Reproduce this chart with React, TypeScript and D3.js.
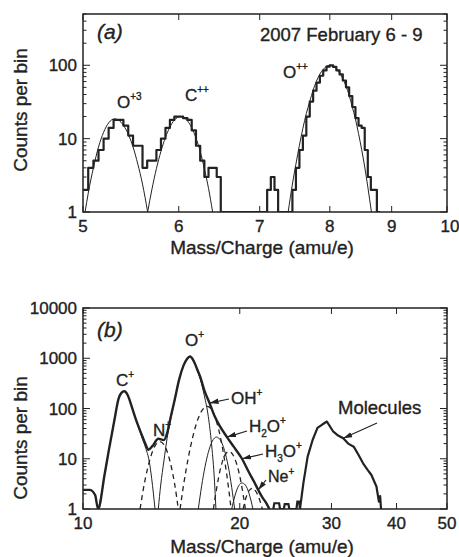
import React from 'react';
import * as d3 from 'd3';

type Pt = [number, number];

// ---------- panel (a): 2007 February 6 - 9 ----------
const histStartA = 5.0;
const histBinA = 0.05;
const histCountsA = [
  2, 4, 5, 7, 10, 14, 18, 18, 15, 11, 8, 8, 4, 5, 5, 7, 10, 14, 18, 20,
  20, 19, 18, 13, 8, 5, 3, 4, 4, 3, 0, 0, 0, 0, 0, 0, 0, 0, 0, 0,
  0, 0, 2, 3, 2, 0, 0, 0, 1, 2, 4, 7, 11, 20, 32, 45, 58, 72, 85, 96,
  100, 95, 85, 75, 62, 50, 38, 27, 19, 15, 14, 7, 3, 2, 2, 0,
];
const fitO3: Pt[] = [
  [5.02, 1], [5.05, 1.8], [5.1, 4], [5.15, 7.7], [5.2, 12.2], [5.25, 16.4], [5.31, 18.6],
  [5.35, 17.9], [5.4, 15.2], [5.45, 11.5], [5.5, 7.7], [5.55, 4.5], [5.6, 2.4], [5.655, 1],
];
const fitC2: Pt[] = [
  [5.655, 1], [5.7, 2], [5.75, 3.9], [5.8, 6.7], [5.85, 10.4], [5.9, 14.4], [5.95, 17.9], [6.02, 20],
  [6.05, 19.6], [6.1, 17.5], [6.15, 14.1], [6.2, 10.2], [6.25, 6.7], [6.3, 3.9], [6.35, 2.1], [6.4, 1],
];
const fitO2: Pt[] = [
  [7.39, 1], [7.45, 2.4], [7.5, 4.5], [7.55, 8.1], [7.6, 13.8], [7.65, 22], [7.7, 32], [7.75, 46],
  [7.8, 61], [7.85, 76], [7.9, 88], [7.95, 97], [8.0, 100], [8.05, 97], [8.1, 90], [8.15, 79],
  [8.2, 66], [8.25, 52], [8.3, 39], [8.35, 27], [8.4, 18.5], [8.45, 11.7], [8.5, 7.1], [8.55, 4.1],
  [8.6, 2.2], [8.66, 1],
];
const xTicksA = [5, 6, 7, 8, 9, 10];

// ---------- panel (b) ----------
const totalB: Pt[] = [
  [10.0, 2.4], [10.3, 2.4], [10.55, 1.9], [10.69, 1], [11.0, 4.8], [11.2, 14], [11.5, 62], [11.7, 155],
  [11.85, 205], [12.0, 220], [12.2, 180], [12.4, 110], [12.6, 66], [12.8, 42], [13.0, 28], [13.2, 19],
  [13.35, 15], [13.6, 18], [13.95, 25], [14.3, 23.5], [14.5, 32], [14.75, 70], [15.0, 150], [15.3, 380],
  [15.6, 720], [15.85, 980], [16.05, 1080], [16.3, 900], [16.55, 620], [16.8, 420], [17.1, 230],
  [17.5, 128], [17.9, 70], [18.3, 45], [18.9, 27], [19.5, 17], [20.2, 10], [20.8, 5.5], [21.3, 3.5],
  [21.7, 2.4], [22.1, 1.7], [22.5, 1.3], [22.8, 1],
];
const noiseB: Pt[] = [
  [23.2, 1], [23.3, 1.3], [23.8, 1.3], [23.9, 1], [24.3, 1], [24.4, 1.25], [24.8, 1.25], [24.9, 1],
  [25.7, 1], [25.8, 1.4], [26.0, 1.4], [26.1, 1],
];
const moleculesB: Pt[] = [
  [26.1, 1], [26.5, 3.3], [27.0, 11], [27.6, 23.6], [28.2, 41], [28.8, 48], [29.4, 55], [30.25, 34.5],
  [30.9, 29], [31.6, 25.5], [32.3, 20], [33.1, 17.4], [33.8, 12], [34.5, 8.1], [35.2, 6], [35.8, 4.75],
  [36.6, 2.8], [37.0, 1.4], [37.2, 1.8], [37.35, 1],
];
const fitCp: Pt[] = [
  [10.69, 1], [10.85, 2], [11.0, 4.8], [11.2, 14], [11.5, 62], [11.7, 155], [11.85, 205], [12.0, 220],
  [12.2, 180], [12.4, 110], [12.6, 65], [12.8, 40], [13.0, 25], [13.2, 16], [13.4, 9], [13.55, 4], [13.75, 1],
];
const fitNp: Pt[] = [
  [12.87, 1], [13.1, 3], [13.3, 6.3], [13.5, 11.2], [13.75, 18], [14.05, 22], [14.3, 19.2],
  [14.55, 12.7], [14.8, 6.4], [15.0, 3.1], [15.24, 1],
];
const fitOp: Pt[] = [
  [13.95, 1], [14.1, 3], [14.3, 9], [14.5, 25], [14.75, 65], [15.0, 145], [15.3, 375], [15.6, 715],
  [15.85, 975], [16.05, 1075], [16.3, 890], [16.55, 600], [16.8, 380], [17.1, 180], [17.4, 70],
  [17.65, 20], [17.85, 5], [18.0, 1],
];
const fitOHp: Pt[] = [
  [15.36, 1], [15.6, 3], [15.9, 9.5], [16.2, 24], [16.5, 49], [16.8, 80], [17.05, 101], [17.3, 110],
  [17.6, 101], [17.9, 70], [18.2, 40], [18.5, 18], [18.8, 6.6], [19.0, 3], [19.25, 1],
];
const fitH2Op: Pt[] = [
  [16.65, 1], [16.9, 2.9], [17.15, 6.9], [17.4, 13.3], [17.7, 22], [18.05, 27], [18.4, 22.5],
  [18.7, 14.5], [19.0, 7.2], [19.3, 2.7], [19.55, 1],
];
const fitH3Op: Pt[] = [
  [17.8, 1], [18.1, 3], [18.4, 6.9], [18.7, 11.4], [19.05, 14], [19.4, 12], [19.75, 7.6], [20.1, 3.5], [20.5, 1],
];
const fitNep: Pt[] = [
  [19.3, 1], [19.6, 1.9], [19.9, 2.9], [20.2, 3.3], [20.5, 3.0], [20.85, 2.0], [21.2, 1],
];
const fitExtra: Pt[] = [
  [20.3, 1], [20.6, 1.8], [20.9, 2.4], [21.2, 2.6], [21.5, 2.2], [21.8, 1.6], [22.1, 1],
];
const xTicksB = [10, 20, 30, 40, 50];

const INK = '#222';
const FONT = '"Liberation Sans", Arial, Helvetica, sans-serif';

const left = 83, right = 447;

// text gets a hair of stroke so it reads as heavy as the scanned original
const txt = { fill: INK, stroke: INK, strokeWidth: 0.35 };

function Frame({ x, y, xTicks, top, bottom, id }: any) {
  const yt = y.ticks();
  const isMajor = (v: number) => Math.abs(Math.log10(v) - Math.round(Math.log10(v))) < 1e-6;
  return (
    <g>
      <defs>
        <clipPath id={id}>
          <rect x={left} y={top} width={right - left} height={bottom - top} />
        </clipPath>
      </defs>
      <rect x={left} y={top} width={right - left} height={bottom - top} fill="none" stroke={INK} strokeWidth={1.5} />
      {yt.map((v: number, i: number) => {
        const len = isMajor(v) ? 7 : 3.5;
        const yy = y(v);
        return (
          <g key={i}>
            <line x1={left} x2={left + len} y1={yy} y2={yy} stroke={INK} strokeWidth={1} />
            <line x1={right} x2={right - len} y1={yy} y2={yy} stroke={INK} strokeWidth={1} />
          </g>
        );
      })}
      {yt.filter(isMajor).map((v: number, i: number) => (
        <text key={'l' + i} x={77} y={y(v) + 6} textAnchor="end" fontSize={17} {...txt}>
          {v}
        </text>
      ))}
      {xTicks.map((v: number, i: number) => (
        <g key={'x' + i}>
          <line x1={x(v)} x2={x(v)} y1={bottom} y2={bottom - 6} stroke={INK} strokeWidth={1} />
          <line x1={x(v)} x2={x(v)} y1={top} y2={top + 6} stroke={INK} strokeWidth={1} />
          <text x={x(v) + (v === 10 && xTicks[0] === 5 ? 3 : 0)} y={bottom + 20} textAnchor="middle" fontSize={17} {...txt}>
            {v}
          </text>
        </g>
      ))}
    </g>
  );
}

export default function App() {
  const xA = d3.scaleLog().domain([5, 10]).range([left, right]);
  const yA = d3.scaleLog().domain([1, 500]).range([212, 14]);
  const xB = d3.scaleLog().domain([10, 50]).range([left, right]);
  const yB = d3.scaleLog().domain([1, 10000]).range([509, 308]);

  const histPts: Pt[] = histCountsA.map((c, i) => [histStartA + i * histBinA, c]);
  histPts.push([histStartA + histCountsA.length * histBinA, 0]);
  const histLine = d3
    .line<Pt>()
    .x((d) => xA(d[0]))
    .y((d) => yA(Math.max(1, d[1])))
    .curve(d3.curveStepAfter);
  const fitLineA = d3
    .line<Pt>()
    .x((d) => xA(d[0]))
    .y((d) => yA(Math.max(1, d[1])))
    .curve(d3.curveMonotoneX);
  const lineB = d3
    .line<Pt>()
    .x((d) => xB(d[0]))
    .y((d) => yB(Math.max(1, d[1])))
    .curve(d3.curveMonotoneX);
  const lineBLin = d3
    .line<Pt>()
    .x((d) => xB(d[0]))
    .y((d) => yB(Math.max(1, d[1])));

  const solidB = [fitCp, fitOp, fitH2Op, fitNep];
  const dashedB = [fitNp, fitOHp, fitH3Op, fitExtra];

  const tip = (p: Pt): [number, number] => [xB(p[0]), yB(p[1])];
  const arrows: { from: [number, number]; to: Pt }[] = [
    { from: [229, 399], to: [17.5, 128] },
    { from: [247, 431], to: [18.9, 27] },
    { from: [263, 454], to: [20.2, 10] },
    { from: [266, 480], to: [21.7, 2.4] },
    { from: [377, 423], to: [31.6, 25.5] },
  ];

  return (
    <svg
      width={459}
      height={557}
      style={{ position: 'absolute', left: 0, top: 0, background: '#fff' }}
      fontFamily={FONT}
    >
      <defs>
        <marker id="arr" viewBox="0 0 10 6" refX={10} refY={3} markerWidth={9} markerHeight={6} markerUnits="userSpaceOnUse" orient="auto">
          <path d="M0,0 L10,3 L0,6 z" fill={INK} />
        </marker>
      </defs>

      {/* panel (a) */}
      <Frame x={xA} y={yA} xTicks={xTicksA} top={14} bottom={212} id="clipA" />
      <g clipPath="url(#clipA)" fill="none" stroke={INK}>
        {[fitO3, fitC2, fitO2].map((f, i) => (
          <path key={i} d={fitLineA(f) || ''} strokeWidth={1} />
        ))}
        <path d={histLine(histPts) || ''} strokeWidth={2.2} strokeLinejoin="round" />
      </g>
      <text x={97} y={39} fontSize={21} fontStyle="italic" {...txt}>(a)</text>
      <text x={260} y={41} fontSize={18.5} {...txt}>2007 February 6 - 9</text>
      <text x={117} y={108} fontSize={17} {...txt}>
        O<tspan fontSize={10} dy={-8}>+3</tspan>
      </text>
      <text x={185} y={101} fontSize={17} {...txt}>
        C<tspan fontSize={10} dy={-8}>++</tspan>
      </text>
      <text x={283} y={78} fontSize={17} {...txt}>
        O<tspan fontSize={10} dy={-8}>++</tspan>
      </text>
      <text x={262} y={254} textAnchor="middle" fontSize={19} {...txt}>Mass/Charge (amu/e)</text>
      <text transform="translate(27,110) rotate(-90)" textAnchor="middle" fontSize={19} {...txt}>Counts per bin</text>

      {/* panel (b) */}
      <Frame x={xB} y={yB} xTicks={xTicksB} top={308} bottom={509} id="clipB" />
      <g clipPath="url(#clipB)" fill="none" stroke={INK}>
        {solidB.map((f, i) => (
          <path key={'s' + i} d={lineB(f) || ''} strokeWidth={1} />
        ))}
        {dashedB.map((f, i) => (
          <path key={'d' + i} d={lineB(f) || ''} strokeWidth={1.3} strokeDasharray="5,4" />
        ))}
        <path d={lineB(totalB) || ''} strokeWidth={2.4} strokeLinejoin="round" />
        <path d={lineBLin(noiseB) || ''} strokeWidth={2.2} />
        <path d={lineBLin(moleculesB) || ''} strokeWidth={2.2} strokeLinejoin="round" />
      </g>
      {arrows.map((a, i) => {
        const t = tip(a.to);
        return <line key={i} x1={a.from[0]} y1={a.from[1]} x2={t[0]} y2={t[1]} stroke={INK} strokeWidth={1.2} markerEnd="url(#arr)" />;
      })}
      <text x={97} y={337} fontSize={21} fontStyle="italic" {...txt}>(b)</text>
      <text x={116} y={386} fontSize={17} {...txt}>
        C<tspan fontSize={10} dy={-8}>+</tspan>
      </text>
      <text x={153} y={436} fontSize={17} {...txt}>
        N<tspan fontSize={10} dy={-8}>+</tspan>
      </text>
      <text x={185} y={346} fontSize={17} {...txt}>
        O<tspan fontSize={10} dy={-8}>+</tspan>
      </text>
      <text x={231} y={404} fontSize={17} {...txt}>
        OH<tspan fontSize={10} dy={-8}>+</tspan>
      </text>
      <text x={249} y={432} fontSize={17} {...txt}>
        H<tspan fontSize={10} dy={5}>2</tspan>
        <tspan dy={-5}>O</tspan>
        <tspan fontSize={10} dy={-8}>+</tspan>
      </text>
      <text x={265} y={457} fontSize={17} {...txt}>
        H<tspan fontSize={10} dy={5}>3</tspan>
        <tspan dy={-5}>O</tspan>
        <tspan fontSize={10} dy={-8}>+</tspan>
      </text>
      <text x={268} y={482} fontSize={16} {...txt}>
        Ne<tspan fontSize={10} dy={-7}>+</tspan>
      </text>
      <text x={338} y={414} fontSize={18.5} {...txt}>Molecules</text>
      <text x={262} y={553} textAnchor="middle" fontSize={19} {...txt}>Mass/Charge (amu/e)</text>
      <text transform="translate(27,438) rotate(-90)" textAnchor="middle" fontSize={19} {...txt}>Counts per bin</text>
    </svg>
  );
}
